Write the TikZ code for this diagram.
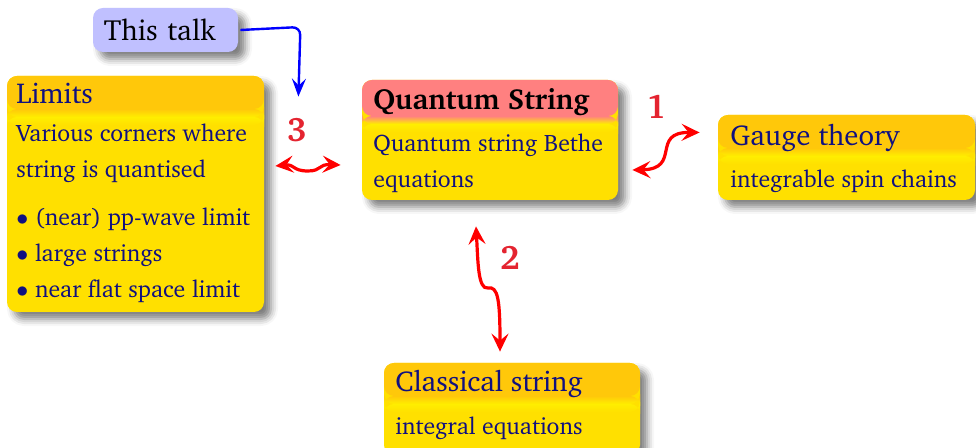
\documentclass[tikz,border=0pt]{standalone}
\usepackage[T1]{fontenc}
\usepackage{charter}
\usetikzlibrary{arrows.meta, positioning, calc, fit, shadows.blur}
\definecolor{blocktitle}{RGB}{255,200,10}
\definecolor{blockbody}{RGB}{255,224,0}
\definecolor{blockband}{RGB}{255,238,0}
\definecolor{alerttitle}{RGB}{255,128,128}
\definecolor{talkblue}{RGB}{192,192,255}
\definecolor{textnavy}{RGB}{16,16,128}
\definecolor{numred}{RGB}{228,36,48}

\begin{document}
\begin{tikzpicture}[x=0.5pt, y=-0.5pt,
  block/.style 2 args={fill=blockbody, rounded corners=5pt, inner sep=0pt,
    blur shadow={shadow xshift=3.5pt, shadow yshift=-3.5pt, shadow blur radius=3.5pt,
      shadow opacity=50},
    path picture={
      \fill[#1] (path picture bounding box.north west) rectangle
        ([yshift=-#2+2pt]path picture bounding box.north east);
      \shade[top color=#1, bottom color=blockband]
        ([yshift=-#2+2pt]path picture bounding box.north west) rectangle
        ([yshift=-#2-2pt]path picture bounding box.north east);
      \shade[top color=blockband, bottom color=blockbody]
        ([yshift=-#2-2pt]path picture bounding box.north west) rectangle
        ([yshift=-#2-6pt]path picture bounding box.north east);
    }},
  talkbox/.style={fill=talkblue, rounded corners=5pt, inner xsep=5.5pt, inner ysep=0pt,
    text width=61.5pt, align=left, minimum height=22pt,
    font=\fontsize{14.6}{18}\selectfont, text=black,
    blur shadow={shadow xshift=3.5pt, shadow yshift=-3.5pt, shadow blur radius=3.5pt,
      shadow opacity=50}},
  titletext/.style={anchor=base west, inner sep=0pt, text=textnavy,
    font=\fontsize{14.4}{16}\selectfont},
  bodytext/.style={anchor=base west, inner sep=0pt, align=left, text=textnavy,
    font=\fontsize{11.9}{18}\selectfont},
  numlabel/.style={text=numred, font=\bfseries\fontsize{17}{20}\selectfont},
  redarr/.style={{Stealth[length=9pt,width=8.5pt,inset=3.5pt]}-{Stealth[length=9pt,width=8.5pt,inset=3.5pt]},
    line width=1.6pt, red},
  bluearr/.style={-{Stealth[length=9pt,width=7pt,inset=3.5pt]}, line width=1.2pt, blue},
]
\useasboundingbox (0,0) rectangle (976,448);

%% --- blocks ---
\node[talkbox] (talk) at (165.5,30) {This talk};
\node[block={blocktitle}{18.5pt}, fit={(7,76) (264,312)}] (limits) {};
\node[block={alerttitle}{20pt}, fit={(362,80) (618,200)}] (qs) {};
\node[block={blocktitle}{18.5pt}, fit={(718,115) (975,200)}] (gauge) {};
\node[block={blocktitle}{18.5pt}, fit={(384,363) (640,455)}] (classical) {};

%% --- block texts (base = last line) ---
\node[titletext] (limitsT) at (16,104) {Limits};
\node[bodytext] (limitsB) at (16,298) {Various corners where\\string is quantised\\[6pt]
  $\bullet$ (near) pp-wave limit\\$\bullet$ large strings\\$\bullet$ near flat space limit};
\node[titletext, text=black, font=\bfseries\fontsize{14.5}{16}\selectfont] (qsT) at (373,110) {Quantum String};
\node[bodytext] (qsB) at (373,188) {Quantum string Bethe\\equations};
\node[titletext] (gaugeT) at (730,146) {Gauge theory};
\node[bodytext] (gaugeB) at (730,188) {integrable spin chains};
\node[titletext] (classicalT) at (395,392) {Classical string};
\node[bodytext] (classicalB) at (395,435) {integral equations};

%% --- arrows ---
\draw[bluearr, rounded corners=4pt] ([xshift=1pt]talk.east) -- ($(talk.east)+(62,-3)$)
  -- ($(limits.north east)+(34,21)$);

\coordinate (limitsR) at ($(limits.east)+(11,-28)$);
\coordinate (qsL) at ($(qs.west)+(-21,25)$);
\draw[redarr] (limitsR) .. controls (295,164) and (292,171) .. (308,171)
  .. controls (322,171) and (318,164) .. (qsL);
\node[numlabel] (num3) at (297,130) {3};

\coordinate (qsR) at ($(qs.east)+(14,30)$);
\coordinate (gaugeL) at ($(gauge.west)+(-18,-25)$);
\draw[redarr] (qsR) .. controls (682,169) and (650,132) .. (gaugeL);
\node[numlabel] (num1) at (656,107) {1};

\coordinate (qsS) at ($(qs.south)+(-14,26)$);
\coordinate (classicalN) at ($(classical.north)+(-12,-11)$);
\draw[redarr] (qsS) .. controls (478,262) and (478,290) .. (488,288)
  .. controls (498,286) and (500,300) .. (classicalN);
\node[numlabel] (num2) at (510,258) {2};

\end{tikzpicture}
\end{document}
